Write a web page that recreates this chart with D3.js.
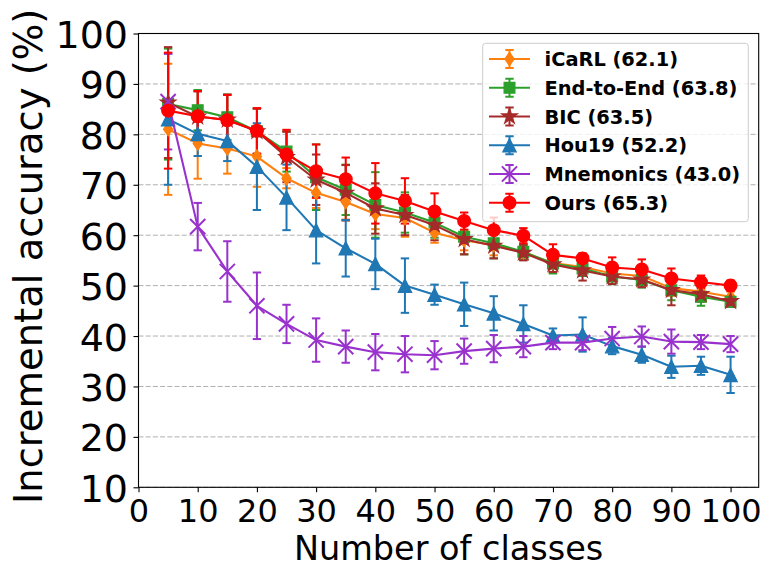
<!DOCTYPE html>
<html>
<head>
<meta charset="utf-8">
<script src="https://cdn.jsdelivr.net/npm/d3@7"></script>
<style>
  body { margin: 0; background: #fff; }
  svg { display: block; font-family: "DejaVu Sans", sans-serif; }
</style>
</head>
<body>
<script>
// number of classes seen so far
const classes = [5, 10, 15, 20, 25, 30, 35, 40, 45, 50, 55, 60, 65, 70, 75, 80, 85, 90, 95, 100];
const xTicks = [0, 10, 20, 30, 40, 50, 60, 70, 80, 90, 100];
const yTicks = [10, 20, 30, 40, 50, 60, 70, 80, 90, 100];

const labels = ["iCaRL (62.1)", "End-to-End (63.8)", "BIC (63.5)", "Hou19 (52.2)", "Mnemonics (43.0)", "Ours (65.3)"];

const icarl = [81.0, 78.2, 77.2, 75.6, 71.3, 68.4, 66.6, 64.2, 63.4, 60.5, 59.0, 58.0, 56.6, 54.5, 53.7, 52.4, 51.9, 49.5, 48.8, 47.8];
const icarlErr = [13, 7, 5, 6, 2, 3, 3.5, 3, 3.7, 2, 2, 2, 1.5, 2, 1.5, 1.5, 1.5, 1.5, 1, 1];

const endToEnd = [86.0, 84.8, 83.4, 80.6, 76.6, 71.5, 69.0, 66.0, 64.5, 62.5, 59.7, 58.4, 56.7, 54.4, 53.4, 51.8, 51.1, 49.1, 47.8, 46.8];
const endToEndErr = [11, 4, 4.5, 4.5, 4, 6.5, 5, 6.5, 4, 3, 3.5, 3, 1.5, 2, 1.5, 1.5, 1.5, 2, 1.8, 1];

const bic = [86.3, 83.5, 82.9, 80.6, 75.5, 71.0, 68.4, 65.3, 64.0, 62.0, 59.2, 57.9, 56.5, 54.2, 53.0, 51.8, 51.2, 49.1, 48.3, 46.9];
const bicErr = [11, 5, 5, 4.5, 5, 5, 5.5, 5, 4, 3, 3, 2.5, 1.5, 1.5, 2, 1.5, 1.5, 3, 1.5, 1];

const hou19 = [83.0, 80.1, 78.7, 73.6, 67.5, 61.0, 57.4, 54.3, 50.0, 48.2, 46.3, 44.5, 42.4, 40.1, 40.3, 38.0, 36.3, 33.9, 34.1, 32.3];
const hou19Err = [13, 4.4, 4, 8.6, 6.5, 6.6, 5.6, 5, 5.4, 2, 4.3, 3.4, 3.7, 1.4, 3.4, 1.6, 1.6, 2.2, 1.8, 3.6];

const mnemonics = [86.5, 61.7, 52.8, 46.0, 42.4, 39.2, 37.9, 36.8, 36.4, 36.2, 37.0, 37.5, 37.9, 38.7, 38.7, 39.5, 39.9, 38.9, 38.8, 38.4];
const mnemonicsErr = [9.5, 4.7, 6, 6.6, 3.8, 4.3, 3.2, 3.6, 3.6, 2.8, 2.5, 2.7, 2.1, 1.3, 1.5, 2.3, 2, 2.4, 1.4, 1.6];

const ours = [84.7, 83.6, 82.8, 80.7, 76.0, 72.7, 71.1, 68.3, 66.8, 64.7, 62.8, 61.0, 59.9, 56.1, 55.4, 53.6, 53.2, 51.4, 50.7, 50.0];
const oursErr = [11.5, 5, 5, 4.5, 4.9, 5.3, 4.3, 6, 4.5, 3.6, 1.7, 2.5, 1.5, 2.1, 1, 2, 2, 2, 1.3, 1];

const values = [icarl, endToEnd, bic, hou19, mnemonics, ours];
const errors = [icarlErr, endToEndErr, bicErr, hou19Err, mnemonicsErr, oursErr];
const colors = ["#ff7f0e", "#2ca02c", "#a52a2a", "#1f77b4", "#9932cc", "#ff0000"];
const markers = ["thinDiamond", "square", "star", "triangle", "cross", "circle"];

const series = labels.map((label, i) => ({
    label: label,
    color: colors[i],
    marker: markers[i],
    points: classes.map((c, j) => ({ c: c, v: values[i][j], e: errors[i][j] }))
}));

const width = 771;
const height = 578;
const plotLeft = 138.5, plotRight = 758.7, plotTop = 33.5, plotBottom = 487.3;

const x = d3.scaleLinear().domain([0, 104.75]).range([plotLeft, plotRight]);
const y = d3.scaleLinear().domain([10, 100]).range([plotBottom, plotTop]);

// marker shapes, roughly like the matplotlib ones
function markerPath(type) {
    const p = d3.path();
    if (type === "circle") {
        p.arc(0, 0, 6.4, 0, 2 * Math.PI);
    } else if (type === "square") {
        p.rect(-5.4, -5.4, 10.8, 10.8);
    } else if (type === "triangle") {
        p.moveTo(0, -6.7); p.lineTo(6.7, 6.7); p.lineTo(-6.7, 6.7); p.closePath();
    } else if (type === "thinDiamond") {
        p.moveTo(0, -6.7); p.lineTo(4.6, 0); p.lineTo(0, 6.7); p.lineTo(-4.6, 0); p.closePath();
    } else if (type === "star") {
        const R = 8.2, r = R * 0.382;
        for (let k = 0; k < 10; k++) {
            const a = -Math.PI / 2 + k * Math.PI / 5;
            const rr = k % 2 === 0 ? R : r;
            if (k === 0) p.moveTo(rr * Math.cos(a), rr * Math.sin(a));
            else p.lineTo(rr * Math.cos(a), rr * Math.sin(a));
        }
        p.closePath();
    } else if (type === "cross") {
        const h = 7.6;
        p.moveTo(-h, -h); p.lineTo(h, h);
        p.moveTo(-h, h); p.lineTo(h, -h);
    }
    return p.toString();
}

function drawMarker(g, type, color) {
    const m = g.append("path").attr("d", markerPath(type));
    if (type === "cross") {
        m.attr("fill", "none").attr("stroke", color).attr("stroke-width", 2);
    } else {
        m.attr("fill", color).attr("stroke", color).attr("stroke-width", 1.2);
    }
}

const svg = d3.create("svg")
    .attr("width", width)
    .attr("height", height)
    .attr("viewBox", `0 0 ${width} ${height}`);

svg.append("rect").attr("width", width).attr("height", height).attr("fill", "#fff");

// horizontal grid
svg.append("g")
    .selectAll("line")
    .data(yTicks)
    .join("line")
    .attr("x1", plotLeft)
    .attr("x2", plotRight)
    .attr("y1", d => y(d))
    .attr("y2", d => y(d))
    .attr("stroke", "#b0b0b0")
    .attr("stroke-width", 1)
    .attr("stroke-dasharray", "5,2.2");

// error bars first, lines on top of them
const bars = svg.append("g");
series.forEach(s => {
    const g = bars.append("g").attr("stroke", s.color).attr("stroke-width", 2);
    g.selectAll(".bar")
        .data(s.points)
        .join("line")
        .attr("x1", d => x(d.c))
        .attr("x2", d => x(d.c))
        .attr("y1", d => y(d.v - d.e))
        .attr("y2", d => y(d.v + d.e));
    g.selectAll(".capTop")
        .data(s.points)
        .join("line")
        .attr("x1", d => x(d.c) - 4.2)
        .attr("x2", d => x(d.c) + 4.2)
        .attr("y1", d => y(d.v + d.e))
        .attr("y2", d => y(d.v + d.e));
    g.selectAll(".capBottom")
        .data(s.points)
        .join("line")
        .attr("x1", d => x(d.c) - 4.2)
        .attr("x2", d => x(d.c) + 4.2)
        .attr("y1", d => y(d.v - d.e))
        .attr("y2", d => y(d.v - d.e));
});

const line = d3.line().x(d => x(d.c)).y(d => y(d.v));

series.forEach(s => {
    const g = svg.append("g");
    g.append("path")
        .datum(s.points)
        .attr("d", line)
        .attr("fill", "none")
        .attr("stroke", s.color)
        .attr("stroke-width", 2.1)
        .attr("stroke-linejoin", "round");
    g.selectAll(".pt")
        .data(s.points)
        .join("g")
        .attr("transform", d => `translate(${x(d.c)},${y(d.v)})`)
        .each(function() { drawMarker(d3.select(this), s.marker, s.color); });
});

// axes
const xAxis = svg.append("g")
    .attr("transform", `translate(0,${plotBottom})`)
    .call(d3.axisBottom(x).tickValues(xTicks).tickSize(5).tickSizeOuter(0).tickPadding(6.5));

const yAxis = svg.append("g")
    .attr("transform", `translate(${plotLeft},0)`)
    .call(d3.axisLeft(y).tickValues(yTicks).tickSize(5).tickSizeOuter(0).tickPadding(5.5));

[xAxis, yAxis].forEach(a => {
    a.attr("font-family", "DejaVu Sans");
    a.select(".domain").remove();
    a.selectAll(".tick line").attr("stroke", "#000").attr("stroke-width", 1.1);
    a.selectAll(".tick text").attr("fill", "#000");
});
xAxis.attr("font-size", 32);
yAxis.attr("font-size", 38);
yAxis.selectAll(".tick text").attr("dy", "0.37em");

// frame
svg.append("rect")
    .attr("x", plotLeft)
    .attr("y", plotTop)
    .attr("width", plotRight - plotLeft)
    .attr("height", plotBottom - plotTop)
    .attr("fill", "none")
    .attr("stroke", "#000")
    .attr("stroke-width", 1.1);

// axis titles
svg.append("text")
    .attr("x", (plotLeft + plotRight) / 2)
    .attr("y", 560)
    .attr("text-anchor", "middle")
    .attr("font-size", 33.5)
    .text("Number of classes");

svg.append("text")
    .attr("transform", `translate(42,${(plotTop + plotBottom) / 2 - 4}) rotate(-90)`)
    .attr("text-anchor", "middle")
    .attr("font-size", 38.5)
    .text("Incremental accuracy (%)");

// legend
const legend = svg.append("g");
legend.append("rect")
    .attr("x", 482.7)
    .attr("y", 43.3)
    .attr("width", 265.6)
    .attr("height", 178.4)
    .attr("rx", 3)
    .attr("fill", "#fff")
    .attr("fill-opacity", 0.8)
    .attr("stroke", "#cccccc")
    .attr("stroke-width", 1);

legend.selectAll(".item")
    .data(series)
    .join("g")
    .attr("transform", (d, i) => `translate(0,${59 + i * 28.75})`)
    .each(function(d) {
        const g = d3.select(this);
        g.append("line").attr("x1", 489).attr("x2", 530).attr("y1", 0).attr("y2", 0)
            .attr("stroke", d.color).attr("stroke-width", 2.1);
        g.append("line").attr("x1", 509.5).attr("x2", 509.5).attr("y1", -9).attr("y2", 9)
            .attr("stroke", d.color).attr("stroke-width", 2);
        [-9, 9].forEach(cy => g.append("line")
            .attr("x1", 505.3).attr("x2", 513.7).attr("y1", cy).attr("y2", cy)
            .attr("stroke", d.color).attr("stroke-width", 2));
        drawMarker(g.append("g").attr("transform", "translate(509.5,0)"), d.marker, d.color);
        g.append("text")
            .attr("x", 544.5)
            .attr("y", 7)
            .attr("font-size", 19.4)
            .attr("font-weight", "bold")
            .text(d.label);
    });

document.body.appendChild(svg.node());
</script>
</body>
</html>
